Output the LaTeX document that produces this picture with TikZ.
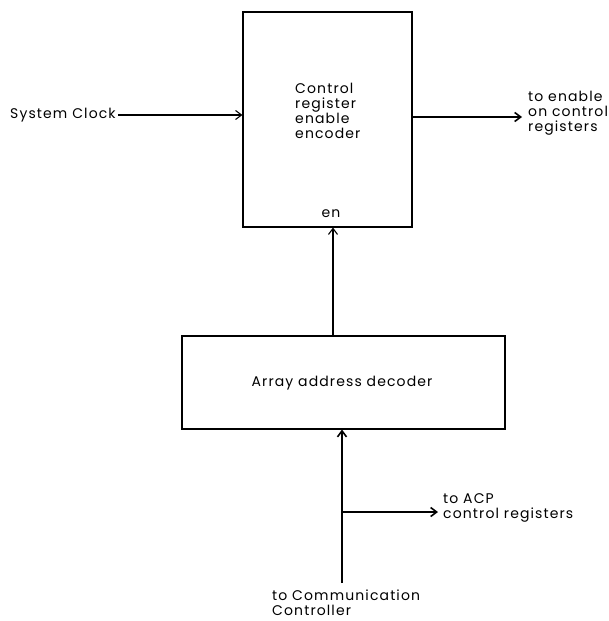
\documentclass[tikz,border=0pt]{standalone}
\usepackage{fontspec}
\setmainfont{Poppins}[LetterSpace=8]
\usetikzlibrary{arrows.meta}
\begin{document}
\begin{tikzpicture}[x=1pt,y=-1pt,
  blk/.style={draw, line width=1.1pt, inner sep=0pt},
  lbl/.style={inner sep=0pt, font=\fontsize{14}{15}\selectfont},
  thin/.style={line width=1.1pt, -{Straight Barb[length=6pt,width=9pt,line width=1.1pt]}},
  thick/.style={line width=2.4pt, -{Straight Barb[length=6pt,width=9pt,line width=1.6pt]}}]
\useasboundingbox (0,0) rectangle (608,621);
% boxes
\node[blk, minimum width=169pt, minimum height=215pt] (enc) at (327.5,119.5) {};
\node[lbl, anchor=west, align=left] (enctxt) at (295,111) {Control\\register\\enable\\encoder};
\node[lbl, anchor=south] (en) at (331,218) {en};
\node[blk, minimum width=323pt, minimum height=93pt] (dec) at (343.5,382.5) {};
\node[lbl] (dectxt) at (342,383) {Array address decoder};
% labels
\node[lbl, anchor=west] (clk) at (10,115) {System Clock};
\node[lbl, anchor=west, align=left] (out) at (528,113) {to enable\\on control\\registers};
\node[lbl, anchor=west, align=left] (acp) at (443,508) {to ACP\\control registers};
\node[lbl, anchor=north west, align=left] (comm) at (272,590) {to Communication\\Controller};
% coordinates
\coordinate (clkend) at (clk.east);
\coordinate (outend) at (522,117);
\coordinate (bot) at (342,583);
\coordinate (br) at (342,512);
\coordinate (acpend) at (438,512);
% connectors
\draw[thin] ([xshift=2pt]clkend) -- (enc.west |- clkend);
\draw[thick] (enc.east |- outend) -- (outend);
\draw[thin] (dec.north -| 333,0) -- (enc.south -| 333,0);
\draw[thick] (bot) -- (dec.south -| bot);
\draw[thick] (br) -- (acpend);
\end{tikzpicture}
\end{document}
